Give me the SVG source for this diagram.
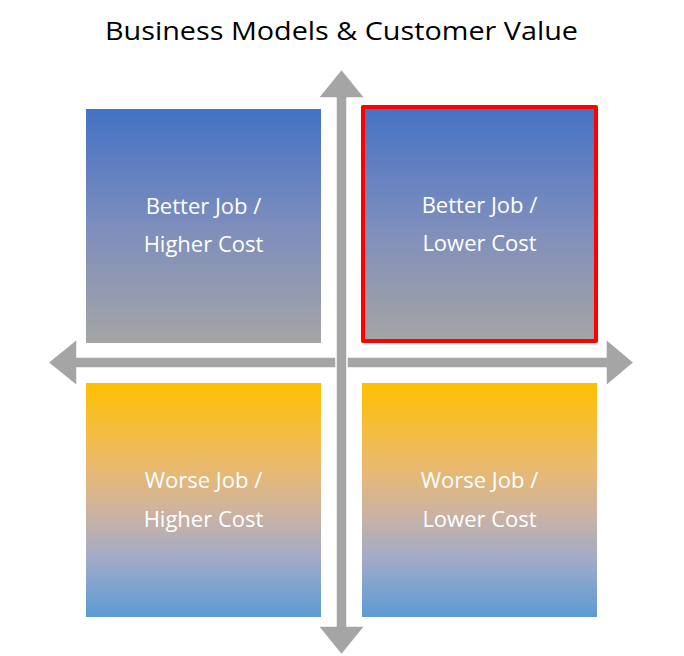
<svg xmlns="http://www.w3.org/2000/svg" width="684" height="656" viewBox="0 0 684 656">
<style>
.t{font-family:"Open Sans","Liberation Sans",sans-serif;fill:#fff;font-size:22px;text-anchor:middle}
.title{font-family:"Open Sans","Liberation Sans",sans-serif;fill:#000;font-size:26px;text-anchor:middle}
.ax{fill:#A5A5A5;stroke:#fff;stroke-width:1.5}
</style>
<defs>
<linearGradient id="gTop" x1="0" y1="0" x2="0" y2="1">
<stop offset="0" stop-color="#4472C4"/>
<stop offset="0.5" stop-color="#7D8DBD"/>
<stop offset="1" stop-color="#A5A5A5"/>
</linearGradient>
<linearGradient id="gBot" x1="0" y1="0" x2="0" y2="1">
<stop offset="0" stop-color="#FFC000"/>
<stop offset="0.35" stop-color="#EBBA6C"/>
<stop offset="0.55" stop-color="#CDB3A0"/>
<stop offset="0.75" stop-color="#A2ABC8"/>
<stop offset="1" stop-color="#5B9BD5"/>
</linearGradient>
</defs>
<rect width="684" height="656" fill="#fff"/>
<text class="title" x="341.5" y="40" textLength="473" lengthAdjust="spacingAndGlyphs">Business Models &amp; Customer Value</text>
<g id="connectors">
<polygon class="ax" points="48,362.5 77,339 77,357 606,357 606,339 634,362.5 606,386 606,368 77,368 77,386"/>
<polygon class="ax" points="341.5,69 365,98 347,98 347,626 365,626 341.5,655 318,626 336,626 336,98 318,98"/>
</g>
<g id="better-higher">
<rect x="86" y="109" width="235" height="234" fill="url(#gTop)"/>
<text class="t" x="203.5" y="214">Better Job /</text>
<text class="t" x="203.5" y="252">Higher Cost</text>
</g>
<g id="better-lower">
<rect x="363" y="107" width="233" height="234" fill="url(#gTop)" stroke="#FF0000" stroke-width="4" stroke-linejoin="round"/>
<text class="t" x="479.5" y="213">Better Job /</text>
<text class="t" x="479.5" y="251">Lower Cost</text>
</g>
<g id="worse-higher">
<rect x="86" y="383" width="235" height="234" fill="url(#gBot)"/>
<text class="t" x="203.5" y="488">Worse Job /</text>
<text class="t" x="203.5" y="527">Higher Cost</text>
</g>
<g id="worse-lower">
<rect x="362" y="383" width="235" height="234" fill="url(#gBot)"/>
<text class="t" x="479.5" y="488">Worse Job /</text>
<text class="t" x="479.5" y="527">Lower Cost</text>
</g>
</svg>
